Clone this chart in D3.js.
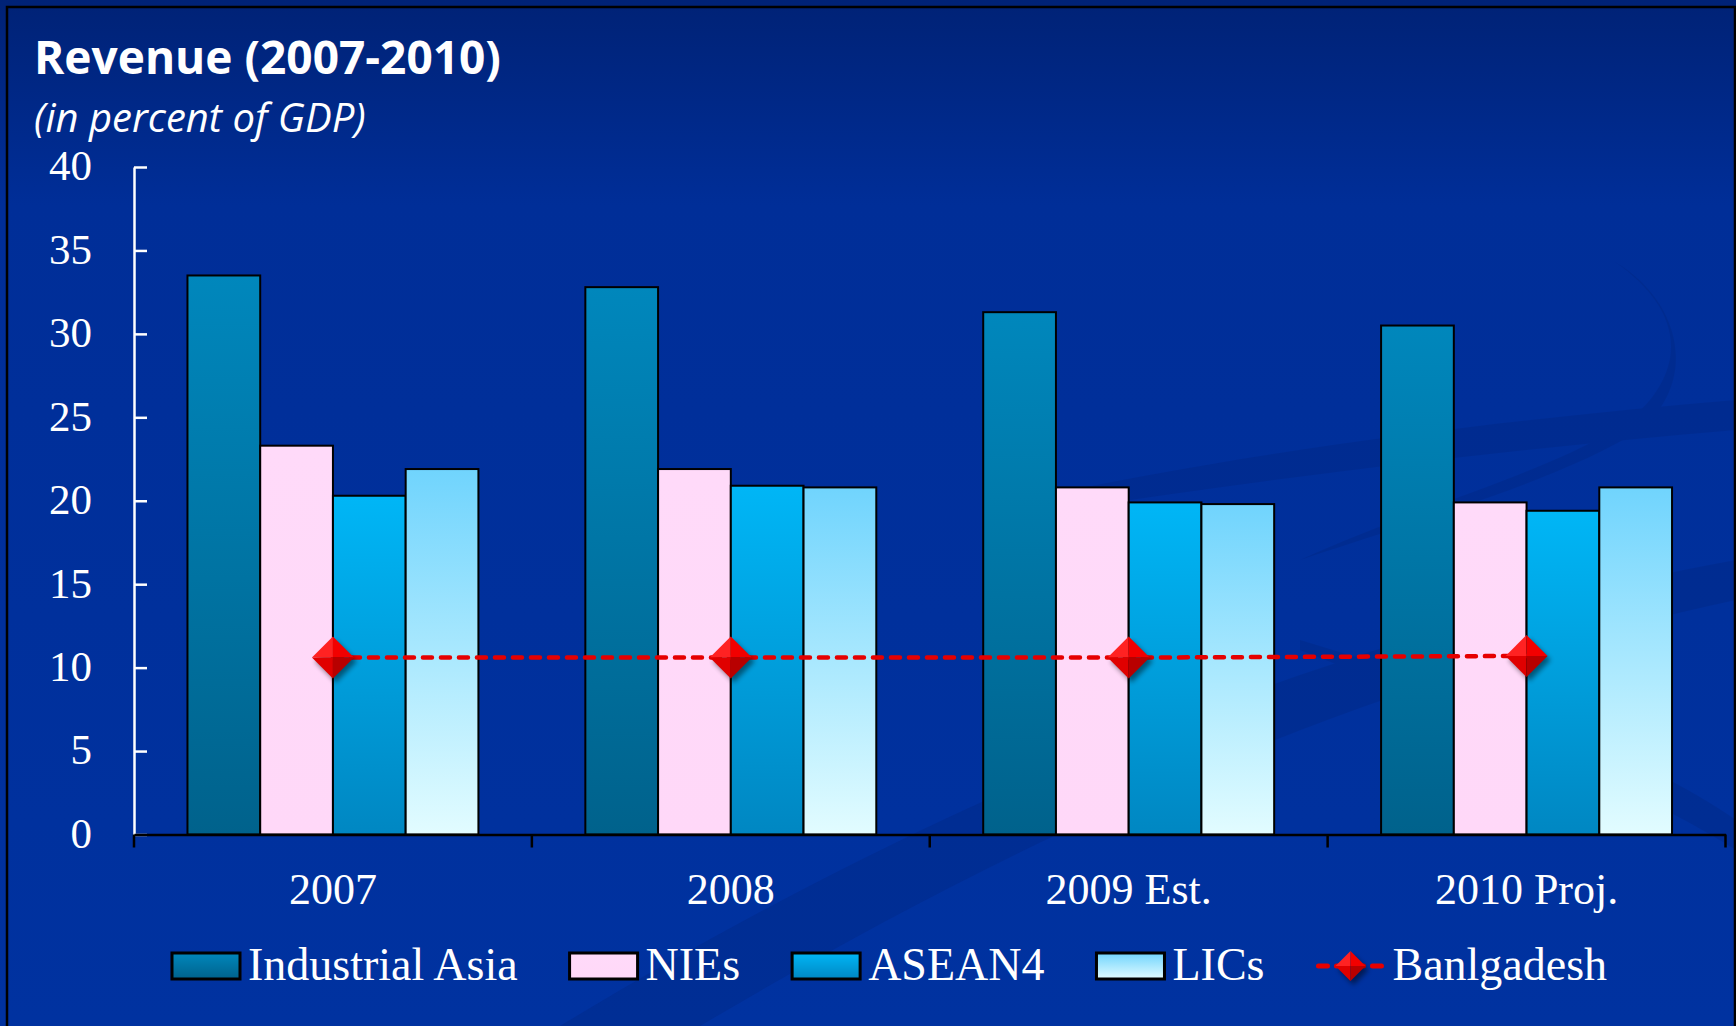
<!DOCTYPE html>
<html>
<head>
<meta charset="utf-8">
<script src="https://cdn.jsdelivr.net/npm/d3@7"></script>
<style>
  html, body { margin: 0; padding: 0; background: #002c92; }
  svg { display: block; }
</style>
</head>
<body>
<svg id="chart" width="1736" height="1026"></svg>
<script>
// Revenue by region, in percent of GDP
const categories = ["2007", "2008", "2009 Est.", "2010 Proj."];
const seriesNames = ["Industrial Asia", "NIEs", "ASEAN4", "LICs"];
const industrialAsia = [33.5, 32.8, 31.3, 30.5];
const nies = [23.3, 21.9, 20.8, 19.9];
const asean4 = [20.3, 20.9, 19.9, 19.4];
const lics = [21.9, 20.8, 19.8, 20.8];
const bangladesh = [10.6, 10.6, 10.6, 10.7];
const lineName = "Banlgadesh";
const yTicks = [0, 5, 10, 15, 20, 25, 30, 35, 40];

const seriesValues = [industrialAsia, nies, asean4, lics];

const W = 1736, H = 1026;
const svg = d3.select("#chart");
const defs = svg.append("defs");

// background gradient
const bg = defs.append("linearGradient").attr("id", "bg").attr("x1", 0).attr("y1", 0).attr("x2", 0).attr("y2", 1);
bg.append("stop").attr("offset", "0").attr("stop-color", "#002276");
bg.append("stop").attr("offset", "0.2").attr("stop-color", "#002e98");
bg.append("stop").attr("offset", "1").attr("stop-color", "#0032a0");

// bar fills
function vGrad(id, top, bottom) {
  const g = defs.append("linearGradient").attr("id", id).attr("x1", 0).attr("y1", 0).attr("x2", 0).attr("y2", 1);
  g.append("stop").attr("offset", "0").attr("stop-color", top);
  g.append("stop").attr("offset", "1").attr("stop-color", bottom);
}
vGrad("gIA", "#0087bc", "#00628c");
vGrad("gNIE", "#ffdaf9", "#ffd8f8");
vGrad("gASEAN", "#00b6f6", "#0087c2");
vGrad("gLIC", "#70d4fd", "#e2fcff");
const fills = ["url(#gIA)", "url(#gNIE)", "url(#gASEAN)", "url(#gLIC)"];

const shadow = defs.append("filter").attr("id", "shadow").attr("x", "-50%").attr("y", "-50%").attr("width", "200%").attr("height", "200%");
shadow.append("feGaussianBlur").attr("stdDeviation", 2.5);

svg.append("rect").attr("width", W).attr("height", H).attr("fill", "url(#bg)");

// faint swooshes in the backdrop
const deco = svg.append("g").attr("fill", "#00216f").attr("opacity", 0.22);
deco.append("path").attr("d", "M 560,1026 C 900,820 1300,640 1736,560 L 1736,600 C 1320,690 980,860 700,1026 Z");
deco.append("path").attr("d", "M 1000,505 C 1250,450 1500,420 1736,400 L 1736,430 C 1500,450 1250,480 1000,520 Z");
deco.append("path").attr("d", "M 1615,262 C 1680,300 1700,380 1640,430 C 1560,480 1420,520 1300,560 C 1430,500 1600,460 1650,400 C 1690,350 1670,300 1615,262 Z");
deco.append("path").attr("d", "M 1300,640 C 1500,700 1650,760 1736,820 L 1736,850 C 1640,790 1480,720 1300,650 Z");

// frame
svg.append("rect").attr("x", 7).attr("y", 7).attr("width", 1728).attr("height", 1040)
  .attr("fill", "none").attr("stroke", "#000").attr("stroke-width", 2.5);

// title
svg.append("text").attr("x", 34).attr("y", 74)
  .attr("font-family", "'Open Sans', sans-serif").attr("font-weight", 700).attr("font-size", 46)
  .attr("fill", "#fff").text("Revenue (2007-2010)");
svg.append("text").attr("x", 34).attr("y", 132)
  .attr("font-family", "'Open Sans', sans-serif").attr("font-style", "italic").attr("font-size", 40)
  .attr("fill", "#fff").text("(in percent of GDP)");

// scales
const plotLeft = 134, plotRight = 1725.5, baseY = 834.5, topY = 167;
const x0 = d3.scaleBand().domain(categories).range([plotLeft, plotRight]).paddingInner(0).paddingOuter(0);
const x1 = d3.scaleBand().domain(seriesNames).range([0, x0.bandwidth()]).paddingInner(0).paddingOuter(0.735);
const y = d3.scaleLinear().domain([0, 40]).range([baseY, topY]);

// bars
const groups = svg.append("g").selectAll("g").data(categories).join("g")
  .attr("transform", d => `translate(${x0(d)},0)`);
groups.selectAll("rect")
  .data((c, ci) => seriesNames.map((s, si) => ({ s, si, v: seriesValues[si][ci] })))
  .join("rect")
  .attr("x", d => x1(d.s))
  .attr("y", d => y(d.v))
  .attr("width", x1.bandwidth())
  .attr("height", d => y(0) - y(d.v))
  .attr("fill", d => fills[d.si])
  .attr("stroke", "#000").attr("stroke-width", 2);

// y axis
const yAxis = svg.append("g").attr("transform", `translate(${plotLeft},0)`)
  .call(d3.axisLeft(y).tickValues(yTicks).tickFormat(d3.format("d")).tickSizeInner(-13).tickSizeOuter(0).tickPadding(42));
yAxis.select(".domain").attr("stroke", "#fff").attr("stroke-width", 2.5);
yAxis.selectAll(".tick line").attr("stroke", "#fff").attr("stroke-width", 2.5);
yAxis.selectAll(".tick text").attr("fill", "#fff")
  .attr("font-family", "'Liberation Serif', 'Times New Roman', serif").attr("font-size", 43).attr("dy", "0.3em");

// x axis: baseline with boundary ticks, labels at band centres
const xAxis = svg.append("g").attr("transform", `translate(0,${baseY})`)
  .call(d3.axisBottom(x0).tickSize(0).tickPadding(38));
xAxis.select(".domain").attr("stroke", "#000").attr("stroke-width", 2.5);
xAxis.selectAll(".tick text").attr("fill", "#fff")
  .attr("font-family", "'Liberation Serif', 'Times New Roman', serif").attr("font-size", 44).attr("dy", "0.71em");
const bounds = categories.map(c => x0(c)).concat([x0.range()[1]]);
xAxis.selectAll("line.bound").data(bounds).join("line").attr("class", "bound")
  .attr("x1", d => d).attr("x2", d => d).attr("y1", 0).attr("y2", 13)
  .attr("stroke", "#000").attr("stroke-width", 2.5);

// diamond marker
function diamond(g, cx, cy, r) {
  const m = g.append("g").attr("transform", `translate(${cx},${cy})`);
  m.append("path").attr("d", `M0,${-r}L${r},0L0,${r}L${-r},0Z`).attr("transform", "translate(3,4)")
    .attr("fill", "#000").attr("opacity", 0.45).attr("filter", "url(#shadow)");
  m.append("path").attr("d", `M0,${-r}L${-r},0L0,0Z`).attr("fill", "#ff2222");
  m.append("path").attr("d", `M0,${-r}L${r},0L0,0Z`).attr("fill", "#f20000");
  m.append("path").attr("d", `M${-r},0L0,${r}L0,0Z`).attr("fill", "#e00000");
  m.append("path").attr("d", `M${r},0L0,${r}L0,0Z`).attr("fill", "#b80000");
}

// Bangladesh line
const cx = c => x0(c) + x0.bandwidth() / 2;
svg.append("path")
  .datum(categories.map((c, i) => [cx(c), y(bangladesh[i])]))
  .attr("d", d3.line())
  .attr("fill", "none").attr("stroke", "#e60000").attr("stroke-width", 4.5)
  .attr("stroke-dasharray", "9,9").attr("stroke-linecap", "round");
const markers = svg.append("g");
categories.forEach((c, i) => diamond(markers, cx(c), y(bangladesh[i]), 21));

// legend
const legend = svg.append("g").attr("transform", "translate(0,966)");
const legFont = { family: "'Liberation Serif', 'Times New Roman', serif", size: 46 };
let lx = 172;
const legendItems = seriesNames.map((s, i) => ({ name: s, fill: fills[i], kind: "bar" }))
  .concat([{ name: lineName, kind: "line" }]);
legendItems.forEach(item => {
  if (item.kind === "bar") {
    legend.append("rect").attr("x", lx).attr("y", -13).attr("width", 68).attr("height", 26)
      .attr("fill", item.fill).attr("stroke", "#000").attr("stroke-width", 3);
  } else {
    legend.append("line").attr("x1", lx + 2).attr("x2", lx + 66).attr("y1", 0).attr("y2", 0)
      .attr("stroke", "#e60000").attr("stroke-width", 5).attr("stroke-dasharray", "9,9").attr("stroke-linecap", "round");
    diamond(legend, lx + 34, 0, 15);
  }
  const t = legend.append("text").attr("x", lx + 76).attr("y", 14)
    .attr("font-family", legFont.family).attr("font-size", legFont.size).attr("fill", "#fff").text(item.name);
  lx += 76 + t.node().getComputedTextLength() + 52;
});
</script>
</body>
</html>
